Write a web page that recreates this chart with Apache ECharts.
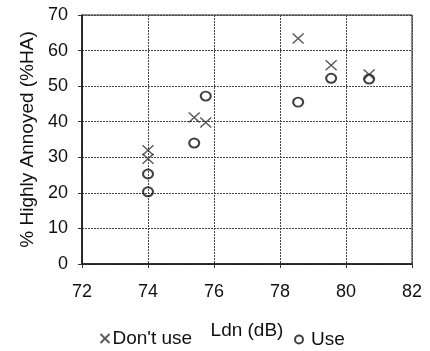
<!DOCTYPE html>
<html>
<head>
<meta charset="utf-8">
<script src="https://cdn.jsdelivr.net/npm/echarts@6/dist/echarts.min.js"></script>
<style>
  html, body { margin: 0; padding: 0; background: #fff; }
  #chart { width: 430px; height: 351px; }
</style>
</head>
<body>
<div id="chart"></div>
<script>
// Noise level (Ldn, dB) against percentage highly annoyed, split by usage group
const seriesNames = ["Don't use", 'Use'];
const dontUseLdn = [74.0, 74.0, 75.4, 75.75, 78.55, 79.55, 80.7];
const dontUseHA = [32.0, 29.6, 41.2, 39.8, 63.4, 55.9, 53.3];
const useLdn = [74.0, 74.0, 75.4, 75.75, 78.55, 79.55, 80.7];
const useHA = [25.3, 20.3, 34.0, 47.2, 45.5, 52.2, 52.0];
const xTicks = [72, 74, 76, 78, 80, 82];
const yTicks = [0, 10, 20, 30, 40, 50, 60, 70];

const FONT = '"Liberation Sans", Arial, sans-serif';
const crossPath = 'path://M0,0 L10,10 M10,0 L0,10';

const chart = echarts.init(document.getElementById('chart'), null, { renderer: 'canvas' });

const pairs = (xs, ys) => xs.map((x, i) => [x, ys[i]]);

chart.setOption({
  animation: false,
  backgroundColor: '#fff',
  textStyle: { fontFamily: FONT, color: '#111' },
  grid: {
    left: 82, right: 18, top: 15, bottom: 87,
    show: true, borderColor: '#222', borderWidth: 1
  },
  legend: [
    {
      data: [{ name: seriesNames[0], icon: crossPath }],
      left: 93, top: 324,
      itemWidth: 9, itemHeight: 9,
      textStyle: { fontFamily: FONT, fontSize: 19, color: '#111', padding: [0, 0, 0, -2] }
    },
    {
      data: [{ name: seriesNames[1], icon: 'circle' }],
      left: 289, top: 325,
      itemWidth: 8, itemHeight: 8,
      itemStyle: { color: '#fff', borderColor: '#111', borderWidth: 2 },
      textStyle: { fontFamily: FONT, fontSize: 19, color: '#111', padding: [-12, 0, 0, 3] }
    }
  ],
  xAxis: {
    type: 'value',
    min: xTicks[0], max: xTicks[xTicks.length - 1], interval: 2,
    name: 'Ldn (dB)', nameLocation: 'middle', nameGap: 57,
    nameTextStyle: { fontFamily: FONT, fontSize: 19, color: '#111' },
    axisLine: { show: true, lineStyle: { color: '#111', width: 1.5 } },
    axisTick: { show: true, length: 4, lineStyle: { color: '#333' } },
    axisLabel: { fontFamily: FONT, fontSize: 18, color: '#111', margin: 19 },
    splitLine: { show: true, lineStyle: { color: '#444', width: 1, type: [2, 1] } }
  },
  yAxis: {
    type: 'value',
    min: yTicks[0], max: yTicks[yTicks.length - 1], interval: 10,
    name: '% Highly Annoyed (%HA)', nameLocation: 'middle', nameGap: 45,
    nameTextStyle: { fontFamily: FONT, fontSize: 19, color: '#111' },
    axisLine: { show: true, lineStyle: { color: '#111', width: 1.5 } },
    axisTick: { show: true, length: 4, lineStyle: { color: '#333' } },
    axisLabel: { fontFamily: FONT, fontSize: 18, color: '#111', margin: 14 },
    splitLine: { show: true, lineStyle: { color: '#444', width: 1, type: [2, 1] } }
  },
  series: [
    {
      name: seriesNames[0],
      type: 'scatter',
      symbol: crossPath,
      symbolSize: [11, 10],
      itemStyle: { color: 'none', borderColor: '#333', borderWidth: 1.4 },
      data: pairs(dontUseLdn, dontUseHA),
      z: 3
    },
    {
      name: seriesNames[1],
      type: 'scatter',
      symbol: 'circle',
      symbolSize: [10, 9],
      itemStyle: { color: 'rgba(255,255,255,0)', borderColor: '#111', borderWidth: 2 },
      data: pairs(useLdn, useHA),
      z: 2
    }
  ]
});
</script>
</body>
</html>
